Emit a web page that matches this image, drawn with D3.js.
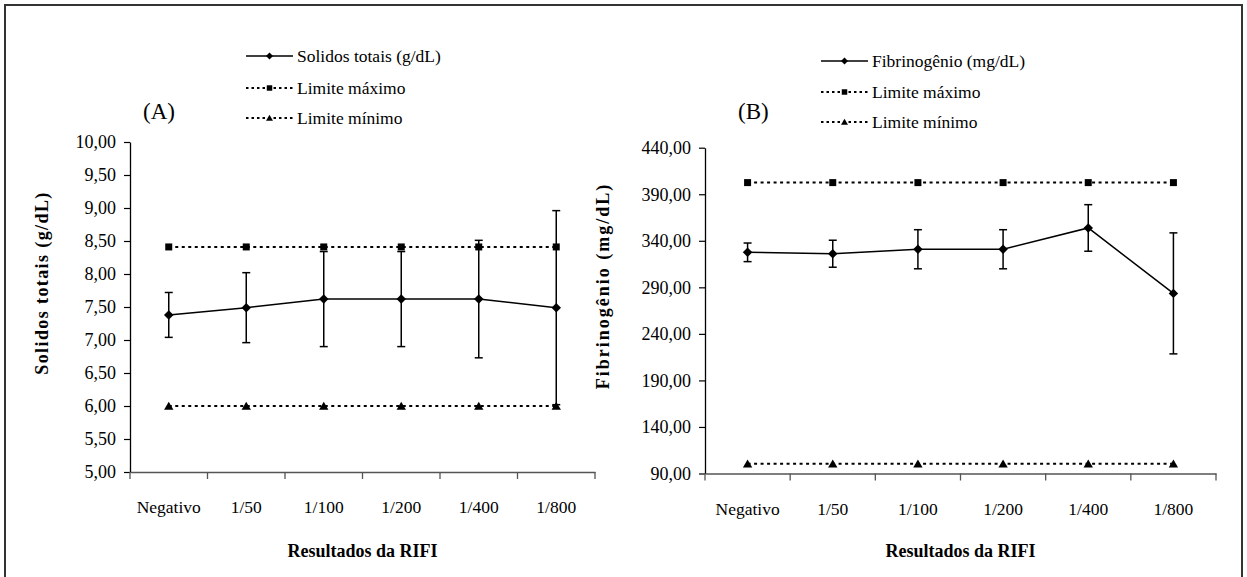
<!DOCTYPE html>
<html>
<head>
<meta charset="utf-8">
<script src="https://cdn.jsdelivr.net/npm/d3@7"></script>
<style>
  body { margin: 0; background: #fff; }
  svg text { font-family: "Liberation Serif", "Times New Roman", serif; fill: #000; }
</style>
</head>
<body>
<div id="chart"></div>
<script>
// dados
var categorias = ["Negativo", "1/50", "1/100", "1/200", "1/400", "1/800"];

var solidos = [7.38, 7.49, 7.62, 7.62, 7.62, 7.49];
var solidosErro = [0.34, 0.53, 0.72, 0.72, 0.89, 1.47];
var solidosMax = [8.41, 8.41, 8.41, 8.41, 8.41, 8.41];
var solidosMin = [6.00, 6.00, 6.00, 6.00, 6.00, 6.00];
var ticksA = [5.0, 5.5, 6.0, 6.5, 7.0, 7.5, 8.0, 8.5, 9.0, 9.5, 10.0];

var fibrinogenio = [327.6, 326.1, 330.9, 330.9, 353.8, 283.5];
var fibrinogenioErro = [10, 14.5, 21, 21, 25, 65];
var fibrinogenioMax = [402.5, 402.5, 402.5, 402.5, 402.5, 402.5];
var fibrinogenioMin = [100.5, 100.5, 100.5, 100.5, 100.5, 100.5];
var ticksB = [90, 140, 190, 240, 290, 340, 390, 440];

var w = 1247, h = 577;
var svg = d3.select("#chart").append("svg").attr("width", w).attr("height", h);

// moldura (sem linha de baixo)
svg.append("path")
    .attr("d", "M5," + h + "V5H1242V" + h)
    .attr("fill", "none").attr("stroke", "#333").attr("stroke-width", 2);

var ptBR = d3.formatLocale({decimal: ",", thousands: ".", grouping: [3], currency: ["", ""]});
var fmt = ptBR.format(".2f");

// simbolos estilo Excel
var losango = {draw: function (ctx, size) {
    var r = Math.sqrt(size) / 2;
    ctx.moveTo(0, -r); ctx.lineTo(r, 0); ctx.lineTo(0, r); ctx.lineTo(-r, 0); ctx.closePath();
}};
var triangulo = {draw: function (ctx, size) {
    var s = Math.sqrt(size);
    ctx.moveTo(0, -s * 0.5); ctx.lineTo(s * 0.55, s * 0.45); ctx.lineTo(-s * 0.55, s * 0.45); ctx.closePath();
}};

function painel(cfg) {
    var g = svg.append("g");
    var x = d3.scaleBand().domain(categorias).range([cfg.left, cfg.right]);
    var y = d3.scaleLinear().domain(cfg.domain).range([cfg.bottom, cfg.top]);
    var cx = function (i) { return x(categorias[i]) + x.bandwidth() / 2; };

    // eixo y
    var ay = g.append("g").attr("transform", "translate(" + cfg.left + ",0)")
        .call(d3.axisLeft(y).tickValues(cfg.ticks).tickFormat(fmt).tickSizeInner(6).tickSizeOuter(0).tickPadding(8));
    ay.select(".domain").attr("stroke", "#000").attr("stroke-width", 1.3);
    ay.selectAll(".tick line").attr("stroke", "#000").attr("stroke-width", 1.2);
    ay.selectAll("text").attr("font-size", 18).attr("font-family", "Liberation Serif");

    // eixo x: marcas nas divisas, rotulos no centro
    var ax = g.append("g").attr("transform", "translate(0," + cfg.bottom + ")")
        .call(d3.axisBottom(x).tickSize(0).tickPadding(0));
    ax.select(".domain").attr("stroke", "#555").attr("stroke-width", 1.5);
    ax.selectAll("text").attr("font-size", 17.5).attr("font-family", "Liberation Serif")
        .attr("y", 41).attr("dy", 0);
    var divisas = categorias.map(function (c) { return x(c); }).concat([cfg.right]);
    g.selectAll(".divisa").data(divisas).enter().append("line")
        .attr("x1", function (d) { return d; }).attr("x2", function (d) { return d; })
        .attr("y1", cfg.bottom).attr("y2", cfg.bottom + 7)
        .attr("stroke", "#555").attr("stroke-width", 1.3);

    // titulos dos eixos
    g.append("text").text("Resultados da RIFI")
        .attr("x", (cfg.left + cfg.right) / 2).attr("y", 557)
        .attr("text-anchor", "middle").attr("font-size", 18).attr("font-weight", "bold");
    g.append("text").text(cfg.titulo)
        .attr("transform", "translate(" + cfg.tituloX + "," + cfg.tituloY + ") rotate(-90)")
        .attr("text-anchor", "middle").attr("font-size", 18).attr("font-weight", "bold")
        .attr("letter-spacing", cfg.espaco);

    // limites pontilhados
    [[cfg.max, d3.symbolSquare, 49], [cfg.min, triangulo, 72]].forEach(function (lim) {
        g.append("path")
            .attr("d", d3.line().x(function (d, i) { return cx(i); }).y(function (d) { return y(d); })(lim[0]))
            .attr("fill", "none").attr("stroke", "#000").attr("stroke-width", 2)
            .attr("stroke-dasharray", "3,3.5");
        g.selectAll(null).data(lim[0]).enter().append("path")
            .attr("transform", function (d, i) { return "translate(" + cx(i) + "," + y(d) + ")"; })
            .attr("d", d3.symbol().type(lim[1]).size(lim[2]));
    });

    // barras de erro
    var eb = g.selectAll(".erro").data(cfg.valores).enter().append("g")
        .attr("stroke", "#000").attr("stroke-width", 1.5);
    eb.append("line")
        .attr("x1", function (d, i) { return cx(i); }).attr("x2", function (d, i) { return cx(i); })
        .attr("y1", function (d, i) { return y(d + cfg.erro[i]); })
        .attr("y2", function (d, i) { return y(d - cfg.erro[i]); });
    eb.append("line")
        .attr("x1", function (d, i) { return cx(i) - 4; }).attr("x2", function (d, i) { return cx(i) + 4; })
        .attr("y1", function (d, i) { return y(d + cfg.erro[i]); })
        .attr("y2", function (d, i) { return y(d + cfg.erro[i]); });
    eb.append("line")
        .attr("x1", function (d, i) { return cx(i) - 4; }).attr("x2", function (d, i) { return cx(i) + 4; })
        .attr("y1", function (d, i) { return y(d - cfg.erro[i]); })
        .attr("y2", function (d, i) { return y(d - cfg.erro[i]); });

    // serie principal
    g.append("path")
        .attr("d", d3.line().x(function (d, i) { return cx(i); }).y(function (d) { return y(d); })(cfg.valores))
        .attr("fill", "none").attr("stroke", "#000").attr("stroke-width", 1.5);
    g.selectAll(null).data(cfg.valores).enter().append("path")
        .attr("transform", function (d, i) { return "translate(" + cx(i) + "," + y(d) + ")"; })
        .attr("d", d3.symbol().type(losango).size(90));

    // legenda
    var itens = [
        {nome: cfg.serie, tipo: losango, tam: 50, tracejado: null},
        {nome: "Limite máximo", tipo: d3.symbolSquare, tam: 30, tracejado: "2.5,3"},
        {nome: "Limite mínimo", tipo: triangulo, tam: 40, tracejado: "2.5,3"}
    ];
    var lg = g.selectAll(".leg").data(itens).enter().append("g")
        .attr("transform", function (d, i) { return "translate(" + cfg.legX + "," + cfg.legY[i] + ")"; });
    lg.append("line").attr("x1", 0).attr("x2", 47).attr("y1", 0).attr("y2", 0)
        .attr("stroke", "#000").attr("stroke-width", function (d) { return d.tracejado ? 1.8 : 1.3; })
        .attr("stroke-dasharray", function (d) { return d.tracejado; });
    lg.append("path").attr("transform", "translate(23.5,0)")
        .attr("d", function (d) { return d3.symbol().type(d.tipo).size(d.tam)(); });
    lg.append("text").text(function (d) { return d.nome; })
        .attr("x", 51).attr("y", 6).attr("font-size", 17.5);

    g.append("text").text(cfg.rotulo)
        .attr("x", cfg.rotuloX).attr("y", cfg.rotuloY).attr("font-size", 23);
}

painel({
    left: 130, right: 595, top: 142, bottom: 472, domain: [5, 10], ticks: ticksA,
    valores: solidos, erro: solidosErro, max: solidosMax, min: solidosMin,
    titulo: "Solidos totais (g/dL)", tituloX: 48, tituloY: 283, espaco: 1.4,
    serie: "Solidos totais (g/dL)", legX: 246, legY: [56, 88, 118],
    rotulo: "(A)", rotuloX: 143, rotuloY: 119
});

painel({
    left: 705, right: 1216, top: 147.7, bottom: 473.5, domain: [90, 440], ticks: ticksB,
    valores: fibrinogenio, erro: fibrinogenioErro, max: fibrinogenioMax, min: fibrinogenioMin,
    titulo: "Fibrinogênio (mg/dL)", tituloX: 609, tituloY: 286, espaco: 2,
    serie: "Fibrinogênio (mg/dL)", legX: 821, legY: [61, 92, 122],
    rotulo: "(B)", rotuloX: 738, rotuloY: 119
});
</script>
</body>
</html>
